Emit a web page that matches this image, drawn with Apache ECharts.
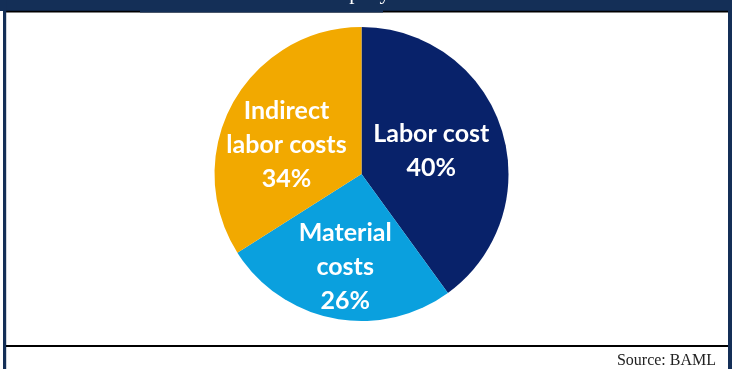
<!DOCTYPE html>
<html>
<head>
<meta charset="utf-8">
<script src="https://cdn.jsdelivr.net/npm/echarts@6/dist/echarts.min.js"></script>
<style>
html,body{margin:0;padding:0;background:#fff;}
#c{width:732px;height:369px;}
</style>
</head>
<body>
<div id="c"></div>
<script>
var categories = ['Labor cost', 'Material costs', 'Indirect labor costs'];
var labelLines = ['Labor cost', 'Material\ncosts', 'Indirect\nlabor costs'];
var values = [40, 26, 34];
var sliceColors = ['#08226a', '#0aa0de', '#f2a900'];
var labelOffsets = [[-3, 1], [-2, 18], [-8, 8]];
var titleText = 'Cost structure of a company';
var sourceText = 'Source: BAML';

var chart = echarts.init(document.getElementById('c'), null, {renderer: 'canvas'});
var data = categories.map(function (c, i) {
  return {
    name: c,
    value: values[i],
    itemStyle: {color: sliceColors[i]},
    label: {offset: labelOffsets[i], formatter: labelLines[i] + '\n' + values[i] + '%'}
  };
});
chart.setOption({
  animation: false,
  series: [{
    type: 'pie',
    center: [361.5, 174],
    radius: [0, 147],
    startAngle: 90,
    clockwise: true,
    silent: true,
    data: data,
    label: {
      show: true,
      position: 'inside',
      color: '#fff',
      fontFamily: 'Lato',
      fontWeight: 'bold',
      fontSize: 25,
      lineHeight: 34,
      align: 'center'
    },
    labelLine: {show: false},
    itemStyle: {borderWidth: 0}
  }],
  graphic: [
    {type: 'rect', shape: {x: 0, y: 0, width: 732, height: 11}, style: {fill: '#142f57'}, z: 10},
    {type: 'rect', shape: {x: 6, y: 10.8, width: 722, height: 1.6}, style: {fill: '#000'}, z: 10},
    {type: 'rect', shape: {x: 140, y: 0, width: 243, height: 12.6}, style: {fill: '#142f57'}, z: 11},
    {type: 'rect', shape: {x: 3, y: 0, width: 3.2, height: 369}, style: {fill: '#142f57'}, z: 10},
    {type: 'rect', shape: {x: 728, y: 0, width: 4, height: 369}, style: {fill: '#142f57'}, z: 10},
    {type: 'rect', shape: {x: 6, y: 345, width: 722, height: 2}, style: {fill: '#000'}, z: 10},
    {type: 'text', x: 390, y: 4, z: 12,
      style: {text: titleText, fill: '#fff', font: '21px "Liberation Serif"', align: 'right', verticalAlign: 'bottom'}},
    {type: 'text', x: 716, y: 369, z: 12,
      style: {text: sourceText, fill: '#222', font: '16px "Liberation Serif"', align: 'right', verticalAlign: 'bottom'}}
  ]
});
</script>
</body>
</html>
